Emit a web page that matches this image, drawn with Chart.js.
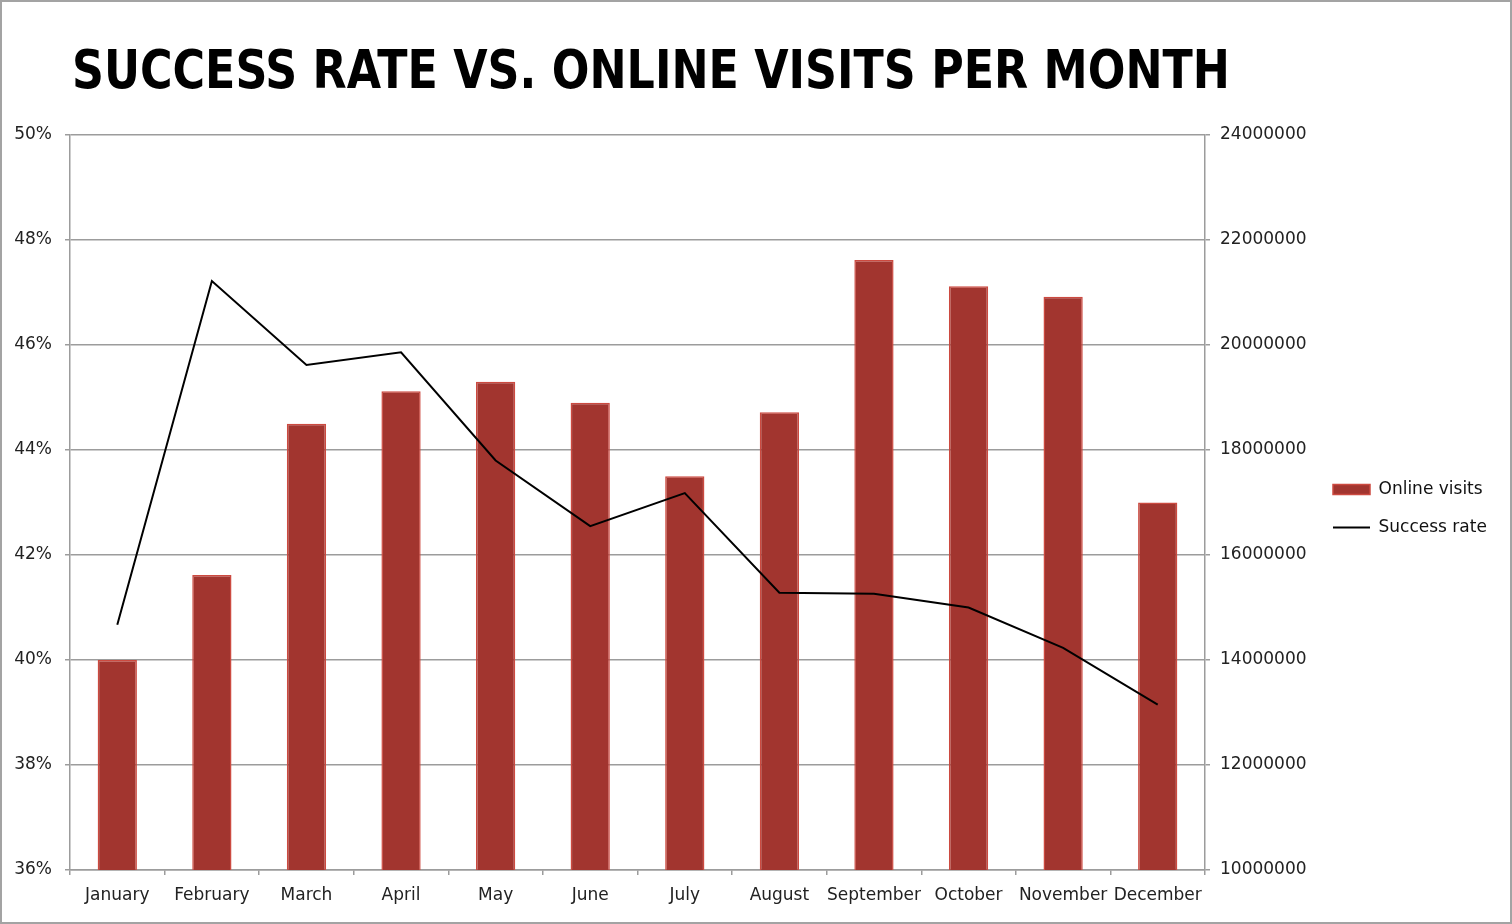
<!DOCTYPE html>
<html>
<head>
<meta charset="utf-8">
<script src="https://cdn.jsdelivr.net/npm/chart.js@4"></script>
<style>
  html, body { margin: 0; padding: 0; background: #fff; }
  #wrap { width: 1512px; height: 924px; box-sizing: border-box; border: 2px solid #a3a3a3; background: #fff; }
  canvas { display: block; }
</style>
</head>
<body>
<div id="wrap"><canvas id="c" width="1508" height="920"></canvas></div>
<script>
const TITLE = 'SUCCESS RATE VS. ONLINE VISITS PER MONTH';
const months = ['January','February','March','April','May','June','July','August','September','October','November','December'];
const onlineVisits = [14000000, 15620000, 18500000, 19120000, 19300000, 18900000, 17500000, 18720000, 21620000, 21120000, 20920000, 17000000];
const successRate = [40.67, 47.22, 45.62, 45.86, 43.8, 42.55, 43.18, 41.28, 41.26, 41.0, 40.23, 39.15];
const leftTicks = [36, 38, 40, 42, 44, 46, 48, 50];
const rightTicks = [10000000, 12000000, 14000000, 16000000, 18000000, 20000000, 22000000, 24000000];
const seriesNames = ['Online visits', 'Success rate'];

const FONT = 'DejaVu Sans';
const GRID = '#9c9c9c';
const LEG_FONT = 17, LEG_PAD = 21, LEG_BOX = 37;

// measure legend text so the legend box starts at the intended place
const mctx = document.createElement('canvas').getContext('2d');
mctx.font = LEG_FONT + 'px "' + FONT + '"';
const maxText = Math.max(...seriesNames.map(s => mctx.measureText(s).width));
const legendWidth = LEG_PAD + LEG_BOX + LEG_FONT / 2 + maxText + 10;
const legendLeft = 1310;
const padRight = Math.max(0, 1508 - legendLeft - legendWidth);

const titlePlugin = {
  id: 'customTitle',
  afterDraw(chart) {
    const ctx = chart.ctx;
    ctx.save();
    ctx.font = 'bold 54px "DejaVu Sans Condensed", "DejaVu Sans", sans-serif';
    ctx.fillStyle = '#000';
    ctx.textAlign = 'left';
    ctx.textBaseline = 'alphabetic';
    ctx.fillText(TITLE, 70, 86, 1158);
    ctx.restore();
  }
};

new Chart(document.getElementById('c'), {
  data: {
    labels: months,
    datasets: [
      {
        type: 'bar',
        label: seriesNames[0],
        data: onlineVisits,
        yAxisID: 'y1',
        backgroundColor: '#a2352f',
        borderColor: '#cc4a40',
        borderWidth: 1.5,
        categoryPercentage: 1,
        barPercentage: 0.415,
        order: 1,
        pointStyle: 'rect'
      },
      {
        type: 'line',
        label: seriesNames[1],
        data: successRate,
        yAxisID: 'y',
        borderColor: '#000',
        backgroundColor: '#000',
        borderWidth: 2,
        pointRadius: 0,
        tension: 0,
        order: 0,
        pointStyle: 'line'
      }
    ]
  },
  options: {
    responsive: false,
    animation: false,
    devicePixelRatio: 1,
    layout: { padding: { top: 133, left: 0, right: padRight, bottom: 0 } },
    plugins: {
      title: { display: false },
      tooltip: { enabled: false },
      legend: {
        position: 'right',
        align: 'start',
        title: { display: true, text: '', font: { size: 10, lineHeight: 1 }, padding: { top: 315, bottom: 0 } },
        labels: {
          usePointStyle: true,
          pointStyleWidth: LEG_BOX,
          boxHeight: 10,
          padding: LEG_PAD,
          color: '#111',
          font: { family: FONT, size: LEG_FONT },
          sort: (a, b) => a.datasetIndex - b.datasetIndex
        }
      }
    },
    scales: {
      x: {
        type: 'category',
        offset: true,
        grid: { display: true, drawOnChartArea: false, drawTicks: true, tickLength: 5, color: GRID, lineWidth: 1.5, offset: true },
        border: { display: true, color: GRID, width: 1.5 },
        ticks: { color: '#222', font: { family: FONT, size: 17 }, padding: 10, maxRotation: 0, autoSkip: false },
        afterFit(scale) { scale.height = 52; }
      },
      y: {
        position: 'left',
        min: 36, max: 50,
        afterBuildTicks(scale) { scale.ticks = leftTicks.map(v => ({ value: v })); },
        grid: { color: GRID, lineWidth: 1.5, tickLength: 5 },
        border: { display: true, color: GRID, width: 1.5 },
        ticks: { color: '#222', font: { family: FONT, size: 17 }, padding: 13, callback: v => v + '%' },
        afterFit(scale) { scale.width = 68; }
      },
      y1: {
        position: 'right',
        min: 10000000, max: 24000000,
        afterBuildTicks(scale) { scale.ticks = rightTicks.map(v => ({ value: v })); },
        grid: { drawOnChartArea: false, color: GRID, lineWidth: 1.5, tickLength: 5 },
        border: { display: true, color: GRID, width: 1.5 },
        ticks: { color: '#222', font: { family: FONT, size: 17 }, padding: 10, callback: v => String(v) },
        afterFit(scale) { scale.width = 107; }
      }
    }
  },
  plugins: [titlePlugin]
});
</script>
</body>
</html>
